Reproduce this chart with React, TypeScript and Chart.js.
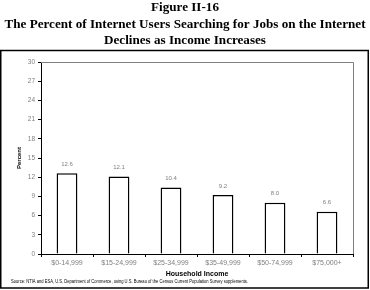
import React, { useEffect, useRef } from "react";
import { Chart, registerables } from "chart.js";

Chart.register(...registerables);

const categories = ["$0-14,999", "$15-24,999", "$25-34,999", "$35-49,999", "$50-74,999", "$75,000+"];
const percentValues = [12.6, 12.1, 10.4, 9.2, 8.0, 6.6];
const titleLines = [
  "Figure II-16",
  "The Percent of Internet Users Searching for Jobs on the Internet",
  "Declines as Income Increases",
];
const sourceText =
  "Source: NTIA and ESA, U.S. Department of Commerce, using U.S. Bureau of the Census Current Population Survey supplements.";
const yAxisTitle = "Percent";
const xAxisTitle = "Household Income";

const decorPlugin = {
  id: "decor",
  afterDraw(chart: any) {
    const ctx = chart.ctx;
    const ca = chart.chartArea;
    ctx.save();
    // plot border (gray top and right)
    ctx.strokeStyle = "#808080";
    ctx.lineWidth = 1;
    ctx.beginPath();
    ctx.moveTo(ca.left, Math.round(ca.top) + 0.5);
    ctx.lineTo(ca.right + 0.5, Math.round(ca.top) + 0.5);
    ctx.lineTo(ca.right + 0.5, ca.bottom);
    ctx.stroke();
    // outer box
    ctx.strokeStyle = "#000";
    ctx.lineWidth = 1.5;
    ctx.strokeRect(0.75, 50.5, 367.5, 237.5);
    // title
    ctx.fillStyle = "#000";
    ctx.textAlign = "center";
    ctx.textBaseline = "alphabetic";
    ctx.font = "bold 13.5px 'Liberation Serif', 'Times New Roman', serif";
    const sx = 361 / ctx.measureText(titleLines[1]).width;
    const baselines = [11, 27.5, 44];
    titleLines.forEach((line, i) => {
      ctx.save();
      ctx.translate(185, baselines[i]);
      ctx.scale(sx, 1);
      ctx.fillText(line, 0, 0);
      ctx.restore();
    });
    // source
    ctx.font = "4.5px 'Liberation Sans', Arial, sans-serif";
    const sw = ctx.measureText(sourceText).width;
    ctx.save();
    ctx.translate(11, 282);
    ctx.scale(237 / sw, 1);
    ctx.textAlign = "left";
    ctx.textBaseline = "middle";
    ctx.fillText(sourceText, 0, 0);
    ctx.restore();
    ctx.restore();
  },
  afterDatasetsDraw(chart: any) {
    const ctx = chart.ctx;
    const meta = chart.getDatasetMeta(0);
    ctx.save();
    ctx.font = "6px 'Liberation Sans', Arial, sans-serif";
    ctx.fillStyle = "#808080";
    ctx.textAlign = "center";
    ctx.textBaseline = "middle";
    meta.data.forEach((bar: any, i: number) => {
      ctx.fillText(percentValues[i].toFixed(1), bar.x, bar.y - 9);
    });
    ctx.restore();
  },
};

export default function App() {
  const ref = useRef<HTMLCanvasElement>(null);
  useEffect(() => {
    if (!ref.current) return;
    const chart = new Chart(ref.current, {
      type: "bar",
      data: {
        labels: categories,
        datasets: [
          {
            data: percentValues,
            backgroundColor: "#ffffff",
            borderColor: "#000000",
            borderWidth: 1.5,
            barPercentage: 0.4,
            categoryPercentage: 1,
          },
        ],
      },
      options: {
        animation: false,
        responsive: false,
        maintainAspectRatio: false,
        devicePixelRatio: 1,
        layout: { padding: { top: 62, right: 17, left: 0, bottom: 0 } },
        plugins: {
          legend: { display: false },
          title: { display: false },
          tooltip: { enabled: false },
        },
        scales: {
          x: {
            afterFit: (s: any) => {
              s.height = 36;
            },
            grid: {
              offset: true,
              drawOnChartArea: false,
              drawTicks: true,
              tickLength: 3,
              color: "#000",
            },
            border: { display: true, color: "#000", width: 1 },
            ticks: {
              color: "#808080",
              font: { size: 7, family: "'Liberation Sans', Arial, sans-serif" },
              padding: 2,
              maxRotation: 0,
              autoSkip: false,
            },
            title: {
              display: true,
              text: xAxisTitle,
              color: "#000",
              font: { size: 7, weight: "bold", family: "'Liberation Sans', Arial, sans-serif" },
              padding: { top: 0, bottom: 12 },
            },
          },
          y: {
            min: 0,
            max: 30,
            afterFit: (s: any) => {
              s.width = 41;
            },
            grid: {
              drawOnChartArea: false,
              drawTicks: true,
              tickLength: 3,
              color: "#000",
            },
            border: { display: true, color: "#000", width: 1 },
            ticks: {
              stepSize: 3,
              color: "#808080",
              font: { size: 6.5, family: "'Liberation Sans', Arial, sans-serif" },
              padding: 3,
            },
            title: {
              display: true,
              text: yAxisTitle,
              color: "#000",
              font: { size: 6, weight: "bold", family: "'Liberation Sans', Arial, sans-serif" },
              padding: { top: 16, bottom: 0 },
            },
          },
        },
      },
      plugins: [decorPlugin],
    } as any);
    return () => chart.destroy();
  }, []);
  return (
    <div style={{ position: "absolute", left: 0, top: 0, width: 370, height: 290, background: "#fff" }}>
      <canvas ref={ref} width={370} height={290} style={{ display: "block", width: 370, height: 290 }} />
    </div>
  );
}
